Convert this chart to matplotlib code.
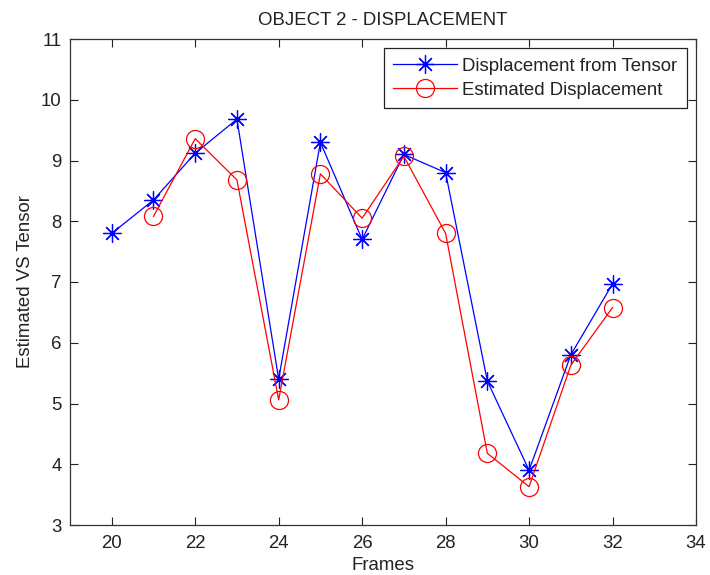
import matplotlib
matplotlib.use("Agg")
import matplotlib.pyplot as plt

frames_tensor = [20, 21, 22, 23, 24, 25, 26, 27, 28, 29, 30, 31, 32]
disp_tensor = [7.8, 8.35, 9.12, 9.68, 5.4, 9.3, 7.7, 9.1, 8.8, 5.37, 3.9, 5.8, 6.97]
frames_est = [21, 22, 23, 24, 25, 26, 27, 28, 29, 30, 31, 32]
disp_est = [8.08, 9.36, 8.68, 5.06, 8.78, 8.05, 9.07, 7.8, 4.18, 3.63, 5.63, 6.58]
xticks = [20, 22, 24, 26, 28, 30, 32, 34]
yticks = [3, 4, 5, 6, 7, 8, 9, 10, 11]

FS = 13.4
plt.rcParams['font.family'] = ['Liberation Sans', 'DejaVu Sans']
fig = plt.figure(figsize=(7.1, 5.75), dpi=100)
ax = fig.add_axes([70/710, 50/575, 626/710, 486/575])

ax.plot(frames_tensor, disp_tensor, color='#0000ff', lw=0.9,
        marker=(8, 2, 0), markersize=13, markeredgewidth=0.9,
        label='Displacement from Tensor')
ax.plot(frames_est, disp_est, color='#ff0000', lw=0.9,
        marker='o', markersize=13, markerfacecolor='none', markeredgewidth=0.9,
        label='Estimated Displacement')

ax.set_xlim(19, 34)
ax.set_ylim(3, 11)
ax.set_xticks(xticks)
ax.set_yticks(yticks)
ax.tick_params(direction='in', top=True, right=True, length=5.5, width=0.8,
               labelsize=FS, colors='#222222', labelcolor='#222222')
ax.tick_params(axis='x', pad=7)
ax.tick_params(axis='y', pad=6)
for s in ax.spines.values():
    s.set_linewidth(0.9)
    s.set_color('#333333')
ax.set_xlabel('Frames', fontsize=FS, labelpad=4, color='#222222')
ax.set_ylabel('Estimated VS Tensor', fontsize=FS, labelpad=5, color='#222222')
ax.set_title('OBJECT 2 - DISPLACEMENT', fontsize=FS, pad=10, color='#222222')

leg = ax.legend(loc='upper right', fontsize=FS, fancybox=False, framealpha=1,
                edgecolor='#222222', borderaxespad=0.5, handlelength=3.4,
                borderpad=0.5, labelspacing=0.38, handletextpad=0.3)
leg.get_frame().set_linewidth(0.9)
for t in leg.get_texts():
    t.set_color('#222222')

fig.savefig('out.png', dpi=100)
